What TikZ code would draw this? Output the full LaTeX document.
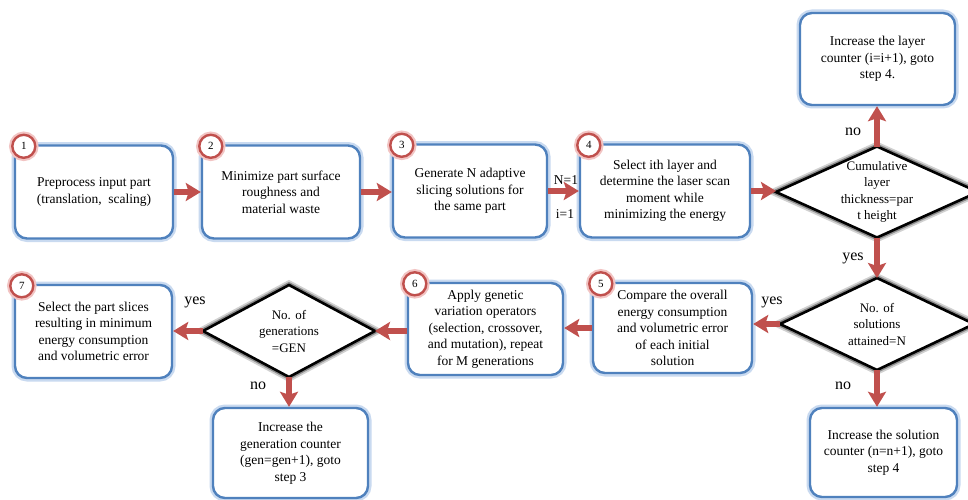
\documentclass[tikz,border=0pt]{standalone}
\usepackage{fontspec}
\setmainfont{Liberation Serif}
\usetikzlibrary{shapes.geometric,arrows.meta}
\definecolor{boxblue}{HTML}{4F81BD}
\definecolor{glowblue}{HTML}{C9DAF0}
\definecolor{arrred}{HTML}{C0504D}
\definecolor{glowpink}{HTML}{F2C4C3}
\begin{document}
\begin{tikzpicture}[x=1pt,y=-1pt,
  box/.style={rectangle, rounded corners=12pt, fill=white, draw=boxblue, line width=2.4pt,
    preaction={draw=glowblue, line width=7pt}, align=center,
    font=\fontsize{13.5}{16.5}\selectfont, inner sep=2pt},
  dia/.style={diamond, draw=black, line width=2.6pt, fill=white, inner sep=0pt, outer sep=0pt,
    preaction={draw=black!18, line width=9pt}, preaction={draw=black!45, line width=5.5pt}},
  diatxt/.style={align=center, font=\fontsize{13}{16.5}\selectfont, inner sep=0pt},
  numc/.style={circle, fill=white, draw=arrred, line width=2.4pt, minimum size=23pt, inner sep=0pt,
    preaction={draw=glowpink, line width=6.5pt}, font=\fontsize{11}{12}\selectfont},
  arr/.style={draw=arrred, line width=5.5pt, -{Stealth[length=15pt,width=18pt,inset=3pt]}},
  lbl/.style={font=\fontsize{16}{18}\selectfont, inner sep=0pt},
  slbl/.style={font=\fontsize{13.5}{15}\selectfont, inner sep=0pt}
]
\useasboundingbox (0,0) rectangle (968,500);
\fill[white] (0,0) rectangle (968,500);

% row 1
\node[box, minimum width=158pt, minimum height=93pt] (b1) at (94,192) {Preprocess input part\\(translation,\ \ scaling)};
\node[box, minimum width=158pt, minimum height=93pt] (b2) at (281,192) {Minimize part surface\\roughness and\\material waste};
\node[box, minimum width=154pt, minimum height=93pt] (b3) at (470,191) {Generate N adaptive\\slicing solutions for\\the same part};
\node[box, minimum width=170pt, minimum height=93pt] (b4) at (665,191) {Select ith layer and\\determine the laser scan\\moment while\\minimizing the energy};
\node[dia, minimum width=202pt, minimum height=91pt] (d1) at (877,192) {};
\node[diatxt] (d1t) at (d1.center) {Cumulative\\layer\\thickness=par\\t height};
\node[box, minimum width=155pt, minimum height=92pt] (t1) at (877.5,59) {Increase the layer\\counter (i=i+1), goto\\step 4.};

% right column
\node[dia, minimum width=194pt, minimum height=92pt] (d2) at (877,324) {};
\node[diatxt] (d2t) at (d2.center) {No. of\\solutions\\attained=N};
\node[box, minimum width=147pt, minimum height=89pt] (bb4) at (883.5,452.5) {Increase the solution\\counter (n=n+1), goto\\step 4};

% row 2
\node[box, minimum width=159pt, minimum height=90pt] (b5) at (672.5,328) {Compare the overall\\energy consumption\\and volumetric error\\of each initial\\solution};
\node[box, minimum width=155pt, minimum height=92pt] (b6) at (485.5,329) {Apply genetic\\variation operators\\(selection, crossover,\\and mutation), repeat\\for M generations};
\node[dia, minimum width=172pt, minimum height=92pt] (d3) at (289,331) {};
\node[diatxt] (d3t) at (d3.center) {No. of\\generations\\=GEN};
\node[box, minimum width=157pt, minimum height=93pt] (b7) at (93.5,331.5) {Select the part slices\\resulting in minimum\\energy consumption\\and volumetric error};
\node[box, minimum width=155pt, minimum height=90pt] (bb3) at (290.5,453) {Increase the\\generation counter\\(gen=gen+1), goto\\step 3};

% numbers
\node[numc] (c1) at ([shift={(10,2)}]b1.north west) {1};
\node[numc] (c2) at ([shift={(10,2)}]b2.north west) {2};
\node[numc] (c3) at ([shift={(10,2)}]b3.north west) {3};
\node[numc] (c4) at ([shift={(10,2)}]b4.north west) {4};
\node[numc] (c5) at ([shift={(9,2)}]b5.north west) {5};
\node[numc] (c6) at ([shift={(8,2)}]b6.north west) {6};
\node[numc] (c7) at ([shift={(8,2)}]b7.north west) {7};

% arrows
\draw[arr] (b1.east) -- (b2.west);
\draw[arr] (b2.east) -- (b2.east -| b3.west);
\draw[arr] (b3.east) -- (b4.west);
\draw[arr] (b4.east) -- (b4.east -| d1.west);
\draw[arr] (d1.north) -- (d1.north |- t1.south);
\draw[arr] (d1.south) -- (d2.north);
\draw[arr] (d2.south) -- (d2.south |- bb4.north);
\draw[arr] (d2.west) -- (d2.west -| b5.east);
\draw[arr] (b5.west) -- (b5.west -| b6.east);
\draw[arr] (d3.east -| b6.west) -- (d3.east);
\draw[arr] (d3.west) -- (d3.west -| b7.east);
\draw[arr] (d3.south) -- (d3.south |- bb3.north);

% labels
\node[slbl] (lN) at (566,180) {N=1};
\node[slbl] (li) at (565,214) {i=1};
\node[lbl] (l1) at (853,132) {no};
\node[lbl] (l2) at (853,258) {yes};
\node[lbl] (l3) at (772,302) {yes};
\node[lbl] (l4) at (843,386) {no};
\node[lbl] (l5) at (195,302) {yes};
\node[lbl] (l6) at (258,386) {no};
\end{tikzpicture}
\end{document}
